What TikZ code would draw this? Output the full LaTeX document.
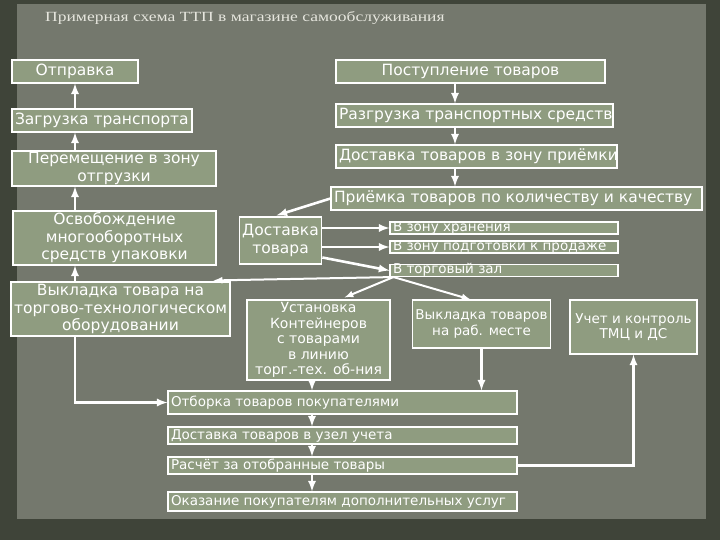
\documentclass[tikz,border=0pt]{standalone}
\usepackage{fontspec}
\setmainfont{DejaVu Sans}
\newfontfamily\titlefont[FakeStretch=1.25]{Liberation Serif}
\usepackage{tikz}
\usetikzlibrary{positioning}
\usetikzlibrary{arrows,calc}
\definecolor{framedark}{HTML}{3F4439}
\definecolor{paper}{HTML}{74786D}
\definecolor{boxgreen}{HTML}{8F9C80}
\definecolor{titlegray}{HTML}{E6E6DE}
\tikzstyle{box}=[draw=white,line width=1.1pt,fill=boxgreen,text=white,inner xsep=3pt,inner ysep=1pt,font=\fontsize{15.5}{17.5}\selectfont]
\tikzstyle{centerbox}=[box,align=center]
\tikzstyle{lowfont}=[font=\fontsize{13.5}{15.5}\selectfont]
\tikzstyle{linebox}=[box,text height=11pt,text depth=3pt]
\tikzstyle{smallbox}=[box,text height=8pt,text depth=2pt,inner ysep=1pt,font=\fontsize{13.5}{15}\selectfont]
\tikzstyle{edge}=[draw=white,line width=2.6pt,-latex]
\tikzstyle{fanedge}=[draw=white,line width=2pt,-latex]
\tikzstyle{title}=[text=titlegray,font=\titlefont\fontsize{14}{16}\selectfont,anchor=west,inner sep=0pt]

\begin{document}
\begin{tikzpicture}[x=1pt,y=-1pt]

    % background and paper
    \useasboundingbox (0,0) rectangle (720,540);
    \fill[framedark] (0,0) rectangle (720,540);
    \fill[paper] (17,4) rectangle (706,519);

    \node[title] (title) at (45,18) {Примерная схема ТТП в магазине самообслуживания};

    % centered boxes
    \foreach \pos/\name/\w/\h/\label in {{(75,71.5)/otpr/126/23/Отправка}, {(470.5,71.5)/post/269/23/Поступление товаров},
        {(114,168.5)/perem/204/35/{Перемещение в зону\\отгрузки}}, {(114.5,238)/osvob/203/54/{Освобождение\\многооборотных\\средств упаковки}},
        {(280.5,240.5)/dost/81/47/{Доставка\\товара}}, {(120.5,309)/vykl/215/54/{Выкладка товара на\\торгово-технологическом\\оборудовании}}}
        \node[centerbox,minimum width=\w pt,minimum height=\h pt] (\name) at \pos {\label};

    \foreach \pos/\name/\w/\h/\label in {{(481.5,324)/vyklrab/133/48/{Выкладка товаров\\на раб. месте}}, {(633.5,327)/uchet/127/54/{Учет и контроль\\ТМЦ и ДС}}}
        \node[centerbox,lowfont,minimum width=\w pt,minimum height=\h pt] (\name) at \pos {\label};

    \node[centerbox,minimum width=143pt,minimum height=80pt,inner ysep=0pt,font=\fontsize{14}{15.6}\selectfont] (ustan) at (318.5,340)
        {Установка\\Контейнеров\\с товарами\\в линию\\торг.-тех. об-ния};

    % left aligned boxes
    \foreach \pos/\name/\w/\label in {{(102,120.5)/zagr/180/Загрузка транспорта}, {(474.5,115.5)/razg/277/Разгрузка транспортных средств},
        {(476.5,156.5)/dostpr/281/Доставка товаров в зону приёмки}, {(516.5,198.5)/priem/371/Приёмка товаров по количеству и качеству}}
        \node[linebox,minimum width=\w pt,minimum height=23pt] (\name) at \pos {\makebox[\dimexpr\w pt-6pt\relax][l]{\label}};

    \foreach \pos/\name/\h/\label in {{(342.5,402.5)/otbor/23/Отборка товаров покупателями}, {(342.5,435.5)/dostuz/17/Доставка товаров в узел учета},
        {(342.5,465.5)/rasch/17/Расчёт за отобранные товары}, {(342.5,501.5)/okaz/19/Оказание покупателям дополнительных услуг}}
        \node[linebox,lowfont,text height=10pt,minimum width=349pt,minimum height=\h pt] (\name) at \pos {\makebox[343pt][l]{\label}};

    \foreach \pos/\name/\label in {{(504,228)/hran/В зону хранения}, {(504,247)/podg/В зону подготовки к продаже}, {(504,270.5)/zal/В торговый зал}}
        \node[smallbox,minimum width=228pt,minimum height=12pt] (\name) at \pos {\makebox[222pt][l]{\label}};

    % column positions of the arrows
    \coordinate (rcol) at (455,0);
    \coordinate (ccol) at (312,0);
    \coordinate (fan) at ($(zal.south west)+(4,0)$);

    % left column goes up
    \foreach \source/ \dest in {zagr/otpr, perem/zagr, osvob/perem, vykl/osvob}
        \path[edge] (\source.north -| otpr.south) -- (\dest.south -| otpr.south);
    \path[edge] (vykl.south -| otpr.south) |- (otbor.west);

    % right column goes down
    \foreach \source/ \dest in {post/razg, razg/dostpr, dostpr/priem}
        \path[edge] (\source.south -| rcol) -- (\dest.north -| rcol);
    \path[edge] (priem.west) -- ($(dost.north)+(-4,-1)$);
    \path[edge] (dost.east |- hran) -- (hran.west);
    \path[edge] (dost.east |- podg) -- (podg.west);
    \path[edge] ($(dost.east)+(0,17)$) -- (zal.west);

    % from the sales floor
    \path[fanedge] (fan) -- ($(vykl.north east)+(-17,-1)$);
    \path[fanedge] (fan) -- ($(ustan.north)+(26,-2)$);
    \path[fanedge] (fan) -- ($(vyklrab.north)+(-11,0)$);

    % bottom chain
    \path[edge] (ustan.south -| ccol) -- (otbor.north -| ccol);
    \path[edge] (vyklrab.south) -- (otbor.north -| vyklrab.south);
    \foreach \source/ \dest in {otbor/dostuz, dostuz/rasch, rasch/okaz}
        \path[edge] (\source.south -| ccol) -- (\dest.north -| ccol);
    \path[edge] (rasch.east) -| (uchet.south);

\end{tikzpicture}
\end{document}
